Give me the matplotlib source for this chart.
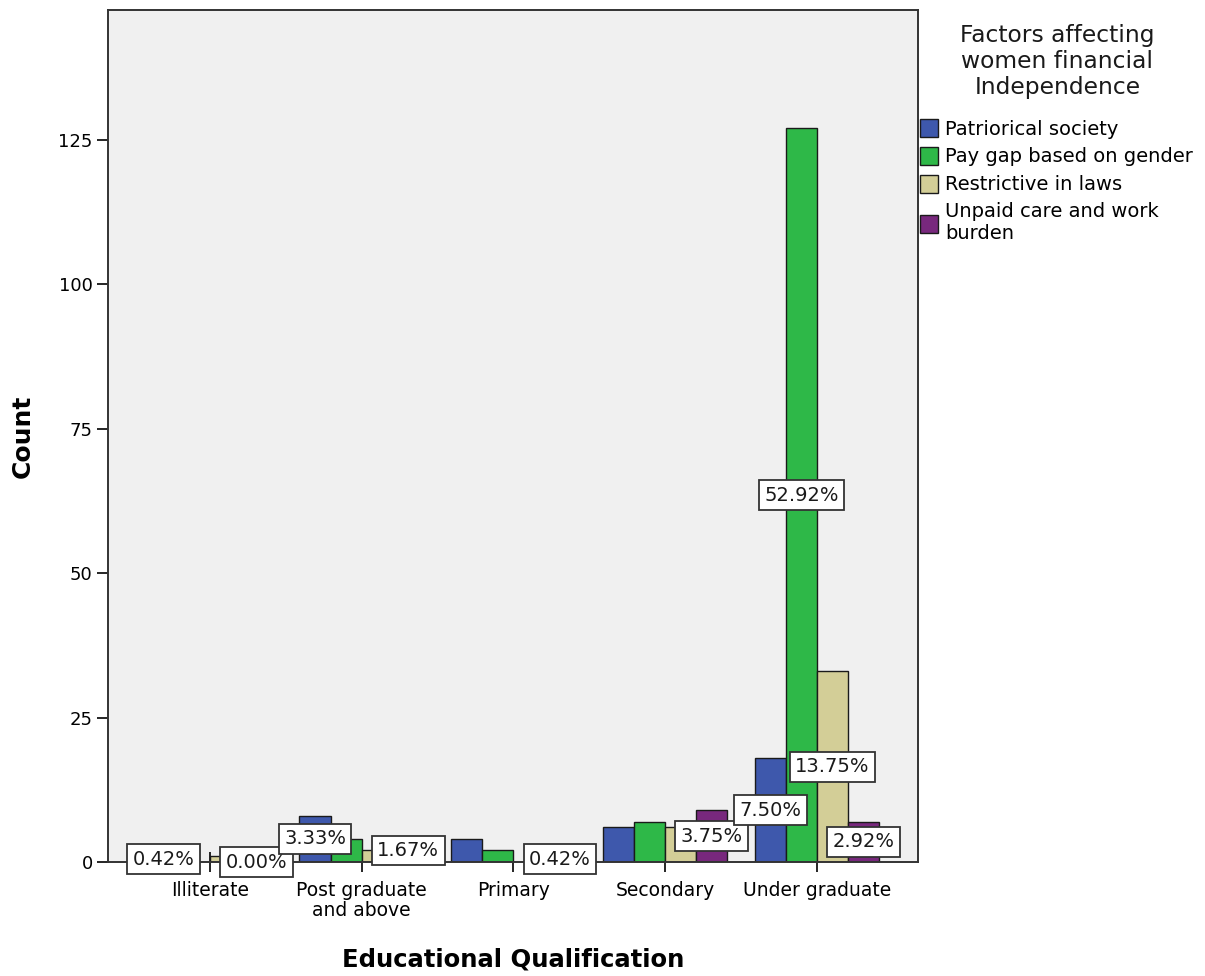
import matplotlib
matplotlib.use("Agg")
import matplotlib.pyplot as plt
import numpy as np

categories = ["Illiterate", "Post graduate\nand above", "Primary", "Secondary", "Under graduate"]
factors = ["Patriorical society", "Pay gap based on gender", "Restrictive in laws",
           "Unpaid care and work\nburden"]
patriarchal = [1, 8, 4, 6, 18]
pay_gap = [0, 4, 2, 7, 127]
restrictive = [1, 2, 0, 6, 33]
unpaid = [0, 4, 1, 9, 7]
# (category, factor) pairs that carry a percent label
labelled = [(0, 0), (0, 3), (1, 0), (1, 3), (2, 3), (3, 3), (4, 0), (4, 1), (4, 2), (4, 3)]

colors = ["#3E58AC", "#2EB848", "#D3CE97", "#78287D"]
series = [patriarchal, pay_gap, restrictive, unpaid]
total = sum(sum(s) for s in series)

fig = plt.figure(figsize=(12.05, 9.76), dpi=100)
ax = fig.add_axes([108 / 1205, 1 - 862 / 976, 810 / 1205, 852 / 976])
ax.set_facecolor("#F0F0F0")

x = np.arange(len(categories))
w = 0.205
offsets = (np.arange(4) - 1.5) * w

for i, vals in enumerate(series):
    ax.bar(x + offsets[i], vals, width=w, color=colors[i], edgecolor="#1a1a1a",
           linewidth=1.0, label=factors[i], zorder=2)

for c, s in labelled:
    v = series[s][c]
    ax.text(x[c] + offsets[s], v / 2, "%.2f%%" % (100.0 * v / total),
            ha="center", va="center", fontsize=14, color="#1a1a1a", zorder=5,
            bbox=dict(boxstyle="square,pad=0.28", facecolor="white",
                      edgecolor="#333333", linewidth=1.3))

ax.set_xlim(-0.672, 4.666)
ax.set_ylim(0, 147.5)
ax.set_yticks([0, 25, 50, 75, 100, 125])
ax.set_xticks(x)
ax.set_xticklabels(categories, linespacing=1.05)
ax.tick_params(axis="x", direction="inout", length=14, width=1.2, pad=7, labelsize=13.5)
ax.tick_params(axis="y", direction="out", length=8, width=1.2, pad=3, labelsize=13)
for sp in ax.spines.values():
    sp.set_linewidth(1.4)
    sp.set_color("#333333")

ax.set_xlabel("Educational Qualification", fontsize=17.5, fontweight="bold", va="top")
ax.xaxis.set_label_coords(0.5, -0.1)
ax.set_ylabel("Count", fontsize=18, fontweight="bold")
ax.yaxis.set_label_coords(-0.09, 0.5)

ax.text(1.172, 1 - 14 / 852, "Factors affecting\nwomen financial\nIndependence",
        transform=ax.transAxes, ha="center", va="top", fontsize=16.8,
        linespacing=1.17, color="#1a1a1a")
leg = ax.legend(loc="upper left", bbox_to_anchor=(1.0025, 1 - 109 / 852),
                frameon=False, fontsize=14, borderpad=0, borderaxespad=0,
                handlelength=0.95, handleheight=1.05, handletextpad=0.35,
                labelspacing=0.42)

fig.savefig("out.png", dpi=100)
